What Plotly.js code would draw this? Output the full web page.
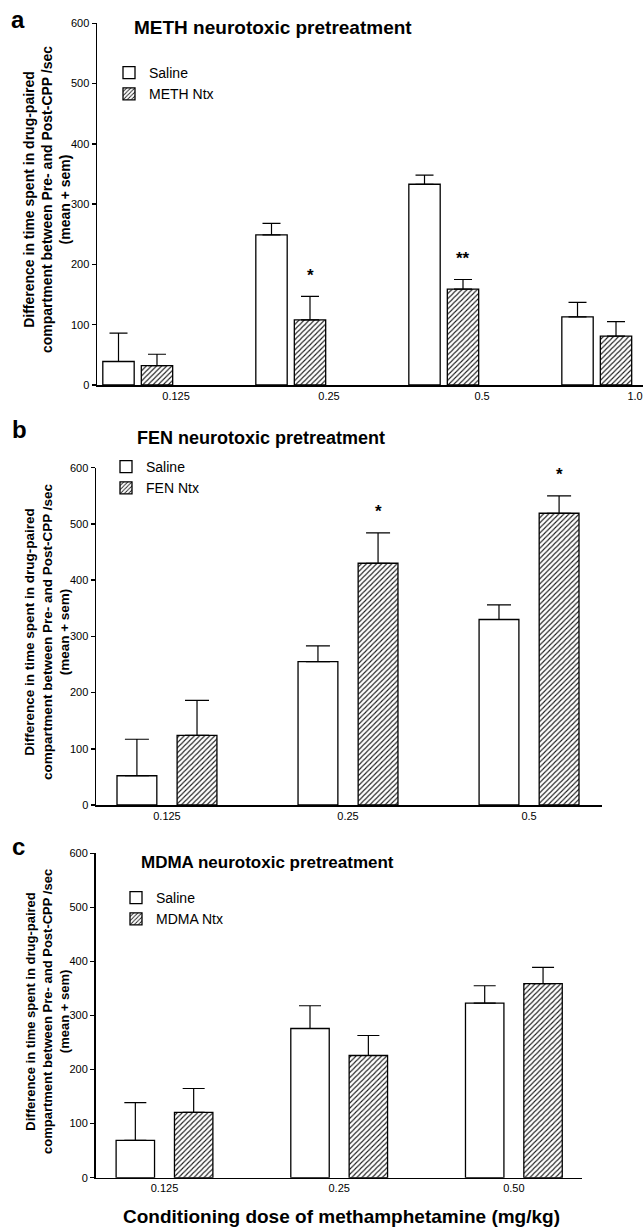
<!DOCTYPE html>
<html>
<head>
<meta charset="utf-8">
<script src="https://cdn.plot.ly/plotly-3.0.1.min.js"></script>
<style>html,body{margin:0;padding:0;background:#fff;}#chart{width:643px;height:1227px;}</style>
</head>
<body>
<div id="chart"></div>
<script>
// ---- Data ----
const categoriesA = ['0.125', '0.25', '0.5', '1.0'];
const salineA = [39, 249, 333, 113];
const salineSemA = [47, 19, 15, 24];
const methA = [32, 108, 159, 81];
const methSemA = [19, 39, 16, 24];
const sigA = ['', '*', '**', ''];

const categoriesB = ['0.125', '0.25', '0.5'];
const salineB = [52, 255, 330];
const salineSemB = [65, 28, 26];
const fenB = [124, 430, 519];
const fenSemB = [62, 54, 31];
const sigB = ['', '*', '*'];

const categoriesC = ['0.125', '0.25', '0.50'];
const salineC = [69, 276, 323];
const salineSemC = [70, 42, 32];
const mdmaC = [121, 226, 359];
const mdmaSemC = [44, 37, 30];
const sigC = ['', '', ''];

const yTitle = 'Difference in time spent in drug-paired<br>compartment between Pre- and Post-CPP /sec<br>(mean + sem)';

// ---- Layout helpers ----
const W = 643, H = 1227;
const FONT = 'Liberation Sans, Arial, Helvetica, sans-serif';
const yd = (top, bot) => [1 - bot / H, 1 - top / H];
const idx = arr => arr.map((_, i) => i);

function barTrace(name, xs, ys, sem, xa, ya, legend, hatched, width, capw) {
  const marker = { color: 'white', line: { color: 'black', width: 1.3 } };
  if (hatched) {
    marker.pattern = { shape: '/', fgcolor: '#1a1a1a', bgcolor: 'white', size: 3.6, solidity: 0.3 };
  }
  return {
    type: 'bar', name: name, x: xs, y: ys, width: width,
    xaxis: xa, yaxis: ya, legend: legend,
    marker: marker,
    error_y: { type: 'data', symmetric: false, array: sem, arrayminus: sem.map(() => 0),
               color: 'black', thickness: 1.2, width: capw },
    hoverinfo: 'skip'
  };
}

const offA = [0, 0.2516], labA = 0.376;
const offB = [-0.166, 0.166];
const offC = [-0.167, 0.167];

const data = [
  barTrace('Saline', idx(categoriesA).map(i => i + offA[0]), salineA, salineSemA, 'x', 'y', 'legend', false, 0.205, 9),
  barTrace('METH Ntx', idx(categoriesA).map(i => i + offA[1]), methA, methSemA, 'x', 'y', 'legend', true, 0.205, 9),
  barTrace('Saline', idx(categoriesB).map(i => i + offB[0]), salineB, salineSemB, 'x2', 'y2', 'legend2', false, 0.22, 12),
  barTrace('FEN Ntx', idx(categoriesB).map(i => i + offB[1]), fenB, fenSemB, 'x2', 'y2', 'legend2', true, 0.22, 12),
  barTrace('Saline', idx(categoriesC).map(i => i + offC[0]), salineC, salineSemC, 'x3', 'y3', 'legend3', false, 0.22, 11),
  barTrace('MDMA Ntx', idx(categoriesC).map(i => i + offC[1]), mdmaC, mdmaSemC, 'x3', 'y3', 'legend3', true, 0.22, 11)
];

const tickFont = { family: FONT, size: 11, color: 'black' };
function yAxis(domain, anchor) {
  return { domain: domain, anchor: anchor, range: [0, 600], dtick: 100, tick0: 0,
    showline: true, linecolor: 'black', linewidth: 1.5, ticks: 'outside', ticklen: 4,
    tickwidth: 1.5, tickcolor: 'black', showgrid: false, zeroline: false, tickfont: tickFont,
    fixedrange: true };
}
function xAxis(domain, anchor, range, tickvals, ticktext) {
  return { domain: domain, anchor: anchor, range: range, tickmode: 'array', tickvals: tickvals,
    ticktext: ticktext, showline: true, linecolor: 'black', linewidth: 1.5, ticks: '',
    showgrid: false, zeroline: false, tickfont: tickFont, fixedrange: true };
}

function legendAt(xpx, ypx) {
  return { x: xpx / W, y: 1 - ypx / H, xanchor: 'left', yanchor: 'top',
    bgcolor: 'rgba(0,0,0,0)', borderwidth: 0, font: { family: FONT, size: 14, color: 'black' },
    tracegroupgap: 0, itemclick: false, itemdoubleclick: false };
}

function paperText(text, xpx, ypx, size, extra) {
  return Object.assign({ xref: 'paper', yref: 'paper', x: xpx / W, y: 1 - ypx / H,
    xanchor: 'center', yanchor: 'middle', showarrow: false, text: text,
    font: { family: FONT, size: size, color: '#000' } }, extra || {});
}

const annotations = [
  paperText('<b>a</b>', 18, 19, 24),
  paperText('<b>b</b>', 19, 430, 24),
  paperText('<b>c</b>', 18, 846, 24),
  paperText('<b>METH neurotoxic pretreatment</b>', 273, 27, 19),
  paperText('<b>FEN neurotoxic pretreatment</b>', 261, 438, 18),
  paperText('<b>MDMA neurotoxic pretreatment</b>', 267, 862, 17),
  paperText('<b>' + yTitle + '</b>', 47, 200, 14, { textangle: -90 }),
  paperText('<b>' + yTitle + '</b>', 47, 632, 13.5, { textangle: -90 }),
  paperText('<b>' + yTitle + '</b>', 47, 1012, 13, { textangle: -90 }),
  paperText('<b>Conditioning dose of methamphetamine (mg/kg)</b>', 341, 1216, 19)
];

function stars(sig, xs, ys, sem, xa, ya) {
  sig.forEach((s, i) => {
    if (!s) return;
    annotations.push({ xref: xa, yref: ya, x: xs[i], y: ys[i] + sem[i], text: '<b>' + s + '</b>',
      showarrow: false, xanchor: 'center', yanchor: 'middle', yshift: 21,
      font: { family: FONT, size: 17, color: '#000' } });
  });
}
stars(sigA, idx(categoriesA).map(i => i + offA[1]), methA, methSemA, 'x', 'y');
stars(sigB, idx(categoriesB).map(i => i + offB[1]), fenB, fenSemB, 'x2', 'y2');
stars(sigC, idx(categoriesC).map(i => i + offC[1]), mdmaC, mdmaSemC, 'x3', 'y3');

const layout = {
  width: W, height: H, margin: { l: 0, r: 0, t: 0, b: 0 },
  paper_bgcolor: 'white', plot_bgcolor: 'white',
  barmode: 'overlay', showlegend: true,
  font: { family: FONT, color: '#000' },
  xaxis: xAxis([97 / W, 1], 'y', [-0.1405, 3.428], idx(categoriesA).map(i => i + labA), categoriesA),
  yaxis: yAxis(yd(23.3, 385), 'x'),
  xaxis2: xAxis([96 / W, 602 / W], 'y2', [-0.392, 2.403], idx(categoriesB), categoriesB),
  yaxis2: yAxis(yd(467.7, 805), 'x2'),
  xaxis3: xAxis([95.5 / W, 582 / W], 'y3', [-0.395, 2.39], idx(categoriesC), categoriesC),
  yaxis3: yAxis(yd(853.3, 1177.7), 'x3'),
  legend: legendAt(109, 57),
  legend2: legendAt(106, 451),
  legend3: legendAt(116, 882),
  annotations: annotations
};

Plotly.newPlot('chart', data, layout, { staticPlot: true, displayModeBar: false });
</script>
</body>
</html>
